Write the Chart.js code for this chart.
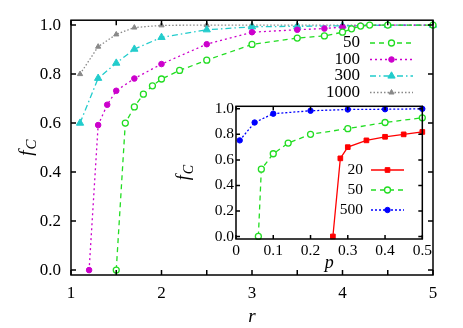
<!DOCTYPE html>
<html>
<head>
<meta charset="utf-8">
<script src="https://cdn.jsdelivr.net/npm/chart.js@4.4.1/dist/chart.umd.min.js"></script>
<style>
body { margin: 0; background: #fff; }
#wrap { position: relative; width: 463px; height: 328px; }
#main { position: absolute; left: 0; top: 0; }
#inset { position: absolute; left: 170px; top: 95px; }
</style>
</head>
<body>
<div id="wrap">
<canvas id="main" width="463" height="328"></canvas>
<canvas id="inset" width="265" height="180"></canvas>
</div>
<script>
// ---- data ----
const rTicks = [1, 1.5, 2, 2.5, 3, 3.5, 4, 4.5, 5]
const fTicks = [0, 0.2, 0.4, 0.6, 0.8, 1.0]
const pTicks = [0, 0.1, 0.2, 0.3, 0.4, 0.5]

const mainLabels = ["50", "100", "300", "1000"]
const r50 = [1.5, 1.6, 1.7, 1.8, 1.9, 2.0, 2.2, 2.5, 3.0, 3.5, 3.8, 4.0, 4.1, 4.2, 4.3, 4.5, 5.0]
const f50 = [0, 0.60, 0.666, 0.718, 0.752, 0.78, 0.815, 0.857, 0.921, 0.947, 0.956, 0.971, 0.985, 0.996, 1.0, 1.0, 1.0]
const r100 = [1.2, 1.3, 1.4, 1.5, 1.7, 2.0, 2.5, 3.0, 3.5, 3.8, 4.0, 4.2, 4.5, 5.0]
const f100 = [0, 0.592, 0.675, 0.732, 0.782, 0.841, 0.922, 0.971, 0.981, 0.986, 0.992, 0.998, 1.0, 1.0]
const r300 = [1.1, 1.3, 1.5, 1.7, 2.0, 2.5, 3.0, 3.5, 4.0, 4.5, 5.0]
const f300 = [0.6, 0.783, 0.845, 0.902, 0.95, 0.981, 0.993, 0.995, 0.997, 1.0, 1.0]
const r1000 = [1.1, 1.3, 1.5, 1.7, 2.0, 2.5, 3.0, 3.5, 4.0, 4.5, 5.0]
const f1000 = [0.8, 0.912, 0.962, 0.99, 0.999, 1.0, 1.0, 1.0, 1.0, 1.0, 1.0]

const insetLabels = ["20", "50", "500"]
const p20 = [0.26, 0.28, 0.30, 0.35, 0.40, 0.45, 0.50]
const g20 = [0, 0.612, 0.70, 0.753, 0.781, 0.80, 0.819]
const p50 = [0.06, 0.068, 0.10, 0.14, 0.20, 0.30, 0.40, 0.50]
const g50 = [0, 0.527, 0.648, 0.732, 0.80, 0.845, 0.893, 0.93]
const p500 = [0.01, 0.05, 0.10, 0.20, 0.30, 0.40, 0.50]
const g500 = [0.753, 0.893, 0.962, 0.985, 0.995, 0.997, 1.0]

// ---- styling ----
const SERIF = "'Liberation Serif', serif"
const GREEN = '#22dd22'
const MAGENTA = '#cc00cc'
const CYAN = '#22cccc'
const GRAY = '#888888'
const RED = '#ff0000'
const BLUE = '#0000ff'

const pts = (xs, ys) => xs.map((x, i) => ({x: x, y: ys[i]}))

const line = (label, data, color, dash, style, radius, open) => ({
    label: label,
    data: data,
    borderColor: color,
    borderWidth: 1.3,
    borderDash: dash,
    pointStyle: style,
    pointRadius: radius,
    pointHoverRadius: radius,
    pointBackgroundColor: open ? '#fff' : color,
    pointBorderColor: color,
    pointBorderWidth: open ? 1.3 : 1,
    tension: 0,
    clip: false,
    fill: false,
})

function marker(ctx, ds, x, y) {
    const r = ds.pointRadius
    ctx.save()
    ctx.setLineDash([])
    ctx.fillStyle = ds.pointBackgroundColor
    ctx.strokeStyle = ds.pointBorderColor
    ctx.lineWidth = ds.pointBorderWidth
    ctx.beginPath()
    if (ds.pointStyle === 'triangle') {
        ctx.moveTo(x, y - r)
        ctx.lineTo(x + r * 0.866, y + r * 0.5)
        ctx.lineTo(x - r * 0.866, y + r * 0.5)
        ctx.closePath()
    } else if (ds.pointStyle === 'rect') {
        const s = r * Math.SQRT1_2
        ctx.rect(x - s, y - s, 2 * s, 2 * s)
    } else {
        ctx.arc(x, y, r, 0, Math.PI * 2)
    }
    ctx.fill()
    ctx.stroke()
    ctx.restore()
}

function drawFC(ctx, x, y, size) {
    ctx.save()
    ctx.translate(x, y)
    ctx.rotate(-Math.PI / 2)
    ctx.fillStyle = '#000'
    ctx.textAlign = 'left'
    ctx.textBaseline = 'alphabetic'
    ctx.font = `italic ${size}px ${SERIF}`
    const wf = ctx.measureText('f').width
    const small = `italic ${Math.round(size * 0.78)}px ${SERIF}`
    ctx.font = small
    const wc = ctx.measureText('C').width
    const x0 = -(wf + wc + 1) / 2
    ctx.font = `italic ${size}px ${SERIF}`
    ctx.fillText('f', x0, size * 0.3)
    ctx.font = small
    ctx.fillText('C', x0 + wf + 1, size * 0.3 + size * 0.22)
    ctx.restore()
}

// frame, inward ticks on all four sides, titles and legend
const decor = (cfg) => ({
    id: 'decor',
    afterDraw(chart) {
        const ctx = chart.ctx
        const a = chart.chartArea
        const xs = chart.scales.x
        const ys = chart.scales.y
        ctx.save()
        ctx.strokeStyle = '#000'
        ctx.lineWidth = 1.5
        ctx.setLineDash([])
        ctx.beginPath()
        xs.ticks.forEach(t => {
            const px = xs.getPixelForValue(t.value)
            ctx.moveTo(px, a.bottom); ctx.lineTo(px, a.bottom - cfg.tick)
            ctx.moveTo(px, a.top); ctx.lineTo(px, a.top + cfg.tick)
        })
        ys.ticks.forEach(t => {
            const py = ys.getPixelForValue(t.value)
            ctx.moveTo(a.left, py); ctx.lineTo(a.left + cfg.tick, py)
            ctx.moveTo(a.right, py); ctx.lineTo(a.right - cfg.tick, py)
        })
        ctx.stroke()
        ctx.strokeRect(a.left, a.top, a.right - a.left, a.bottom - a.top)

        // axis titles
        ctx.fillStyle = '#000'
        ctx.font = `italic ${cfg.titleSize}px ${SERIF}`
        ctx.textAlign = 'center'
        ctx.textBaseline = 'middle'
        ctx.fillText(cfg.xTitle, (a.left + a.right) / 2, cfg.xTitleY)
        drawFC(ctx, cfg.yTitleX, (a.top + a.bottom) / 2, cfg.titleSize)

        // legend
        ctx.font = `${cfg.legendSize}px ${SERIF}`
        ctx.textAlign = 'right'
        chart.data.datasets.forEach((ds, i) => {
            const y = cfg.legY + i * cfg.legDy
            ctx.fillStyle = '#000'
            ctx.fillText(ds.label, cfg.legText, y)
            ctx.strokeStyle = ds.borderColor
            ctx.lineWidth = ds.borderWidth
            ctx.setLineDash(ds.borderDash)
            ctx.beginPath()
            ctx.moveTo(cfg.legL0, y); ctx.lineTo(cfg.legL1, y)
            ctx.stroke()
            marker(ctx, ds, (cfg.legL0 + cfg.legL1) / 2, y)
        })
        ctx.restore()
    }
})

const scaleOpts = (min, max, tickVals, fmt, size, pad, fit) => ({
    type: 'linear',
    min: min,
    max: max,
    afterBuildTicks: s => { s.ticks = tickVals.map(v => ({value: v})) },
    afterFit: fit,
    grid: {display: false, drawTicks: false},
    border: {display: false},
    ticks: {
        autoSkip: false,
        maxRotation: 0,
        padding: pad,
        color: '#000',
        font: {family: SERIF, size: size},
        callback: fmt,
    },
})

// ---- main chart ----
new Chart(document.getElementById('main'), {
    type: 'line',
    data: {
        datasets: [
            line(mainLabels[0], pts(r50, f50), GREEN, [5, 4], 'circle', 3, true),
            line(mainLabels[1], pts(r100, f100), MAGENTA, [2, 3], 'circle', 2.8, false),
            line(mainLabels[2], pts(r300, f300), CYAN, [6, 3, 1.5, 3], 'triangle', 4.2, false),
            line(mainLabels[3], pts(r1000, f1000), GRAY, [1.5, 2], 'triangle', 3, false),
        ]
    },
    options: {
        responsive: false,
        animation: false,
        events: [],
        layout: {padding: {left: 0, top: 17, right: 30, bottom: 0}},
        plugins: {legend: {display: false}, tooltip: {enabled: false}},
        scales: {
            x: scaleOpts(1, 5, rTicks, v => Number.isInteger(v) ? String(v) : '', 17, 8, s => { s.height = 53 }),
            y: scaleOpts(-0.02, 1.02, fTicks, v => v.toFixed(1), 17, 10, s => { s.width = 71 }),
        }
    },
    plugins: [decor({
        tick: 5, titleSize: 19, xTitle: 'r', xTitleY: 317, yTitleX: 26,
        legendSize: 17, legText: 360, legL0: 370, legL1: 413, legY: 43, legDy: 16.5,
    })]
})

// ---- inset ----
new Chart(document.getElementById('inset'), {
    type: 'line',
    data: {
        datasets: [
            line(insetLabels[0], pts(p20, g20), RED, [], 'rect', 3.3, false),
            line(insetLabels[1], pts(p50, g50), GREEN, [5, 4], 'circle', 3, true),
            line(insetLabels[2], pts(p500, g500), BLUE, [2, 2], 'circle', 2.7, false),
        ]
    },
    options: {
        responsive: false,
        animation: false,
        events: [],
        layout: {padding: {left: 0, top: 8, right: 11, bottom: 0}},
        plugins: {legend: {display: false}, tooltip: {enabled: false}},
        scales: {
            x: scaleOpts(0, 0.5, pTicks, v => v === 0 ? '0' : v.toFixed(1), 15.5, 3, s => { s.height = 36 }),
            y: scaleOpts(-0.02, 1.02, fTicks, v => v.toFixed(1), 15.5, 2, s => { s.width = 66 }),
        }
    },
    plugins: [decor({
        tick: 4, titleSize: 18, xTitle: 'p', xTitleY: 168, yTitleX: 14,
        legendSize: 15.5, legText: 193, legL0: 201, legL1: 234, legY: 75, legDy: 20,
    })]
})
</script>
</body>
</html>
